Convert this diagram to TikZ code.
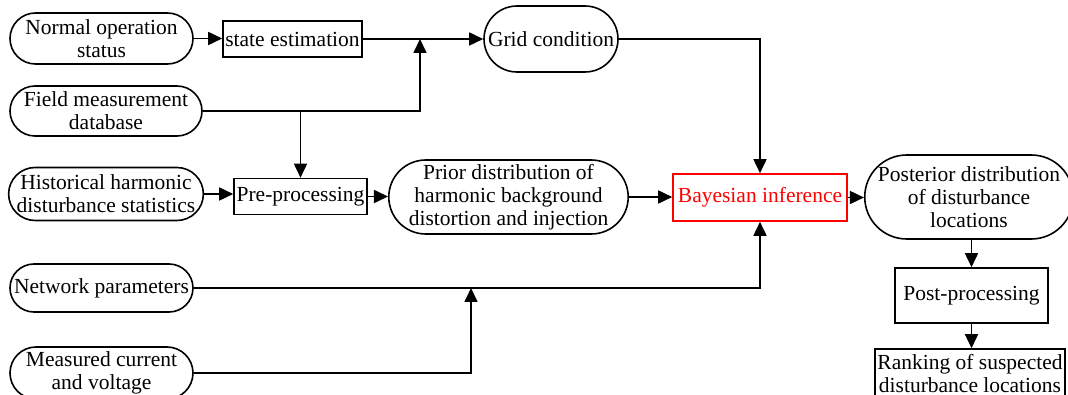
\documentclass[tikz,border=0pt]{standalone}
\usepackage{fontspec}
\setmainfont{Liberation Serif}
\usetikzlibrary{shapes.misc,arrows.meta}
\begin{document}
\begin{tikzpicture}[x=1pt,y=-1pt,
  every node/.style={font=\fontsize{21.5}{23}\selectfont, align=center, inner sep=0pt, line width=1.6pt},
  stad/.style 2 args={draw, rounded rectangle, minimum width=#1, minimum height=#2},
  boxn/.style 2 args={draw, rectangle, minimum width=#1, minimum height=#2},
  arr/.style={line width=1.7pt, -{Triangle[length=14pt,width=13pt]}}
]
\clip (0,0) rectangle (1068,395);
\useasboundingbox (0,0) rectangle (1068,395);

\node[stad={183}{51}] (nos) at (101.5,38.5) {Normal operation\\status};
\node[boxn={139}{36}] (se) at (292.5,39) {state estimation};
\node[stad={134}{66}] (gc) at (551,39) {Grid condition};
\node[stad={192}{50}] (fmd) at (106,111) {Field measurement\\database};
\node[stad={191}{53}] (hhds) at (106,194) {Historical harmonic\\disturbance statistics};
\node[boxn={133}{36}] (pre) at (300.5,196.5) {Pre-processing};
\node[stad={233}{74}] (prior) at (508.5,197) {Prior distribution of\\harmonic background\\distortion and injection};
\node[boxn={174}{47}, draw=red, text=red] (bay) at (760,197.5) {Bayesian inference};
\node[stad={198}{84}] (post) at (969,197) {Posterior distribution\\of disturbance\\locations};
\node[boxn={153}{55}] (pp) at (971.5,295.5) {Post-processing};
\node[boxn={190}{50}] (rank) at (970,374) {Ranking of suspected\\disturbance locations};
\node[stad={183}{48}] (np) at (101.5,288) {Network parameters};
\node[stad={183}{52}] (mcv) at (101.5,373) {Measured current\\and voltage};

\coordinate (j1) at (420,39);
\coordinate (j2) at (471,288);

\draw[arr] (nos.east) -- (nos.east -| se.west);
\draw[arr] (se.east) -- (se.east -| gc.west);
\draw[arr] (fmd.east) -| (j1);
\draw[arr] (pre.north |- fmd.east) -- (pre.north);
\draw[arr] (hhds.east) -- (hhds.east -| pre.west);
\draw[arr] (pre.east) -- (pre.east -| prior.west);
\draw[arr] (prior.east) -- (prior.east -| bay.west);
\draw[arr] (gc.east) -| (bay.north);
\draw[arr] (bay.east) -- (bay.east -| post.west);
\draw[arr] (pp.north |- post.south) -- (pp.north);
\draw[arr] (pp.south) -- (pp.south |- rank.north);
\draw[arr] (np.east) -| (bay.south);
\draw[arr] (mcv.east) -| (j2);
\end{tikzpicture}
\end{document}
